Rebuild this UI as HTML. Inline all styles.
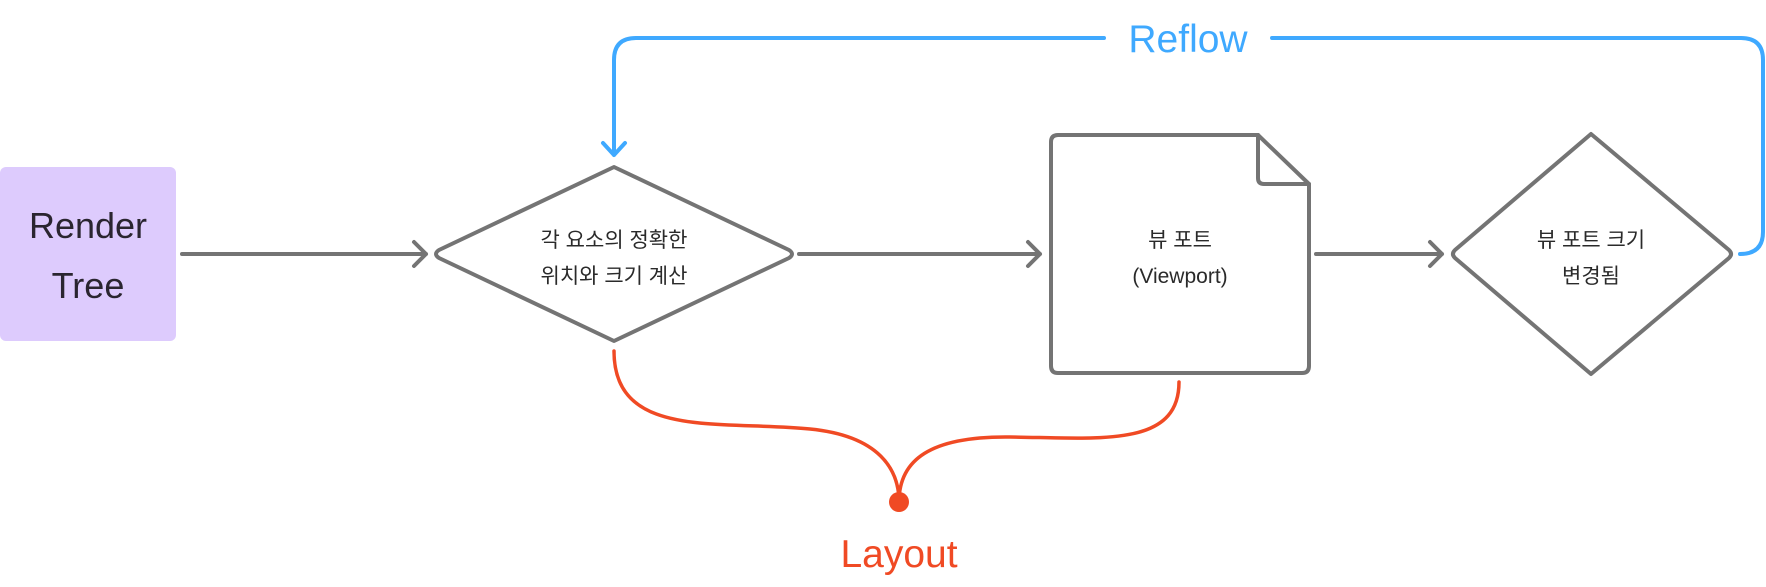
<!DOCTYPE html>
<html><head><meta charset="utf-8"><style>
body{margin:0;width:1766px;height:582px;background:#fff;overflow:hidden;font-family:"Liberation Sans","Noto Sans CJK KR",sans-serif}
</style></head><body>
<svg width="1766" height="582" viewBox="0 0 1766 582" xmlns="http://www.w3.org/2000/svg">
<rect x="0" y="167" width="176" height="174" rx="6" fill="#ddcbfd"/>
<text x="88" y="238" font-size="36" fill="#2a2530" text-anchor="middle" font-family="Liberation Sans, sans-serif">Render</text>
<text x="88" y="298" font-size="36" fill="#2a2530" text-anchor="middle" font-family="Liberation Sans, sans-serif">Tree</text>
<g stroke="#747474" stroke-width="4" fill="none" stroke-linecap="round" stroke-linejoin="round">
<path d="M182 254H426M414 242L426 254L414 266"/>
<path d="M799 254H1040M1028 242L1040 254L1028 266"/>
<path d="M1316 254H1442M1430 242L1442 254L1430 266"/>
<path d="M614 167L789 250Q795 254 789 258L614 341L439 258Q433 254 439 250Z"/>
<path d="M1058 135H1258L1309 184V366Q1309 373 1302 373H1058Q1051 373 1051 366V142Q1051 135 1058 135Z"/>
<path d="M1258 135V178Q1258 184 1264 184H1309"/>
<path d="M1591 134L1729 250Q1733 254 1729 258L1591 374L1455 258Q1451 254 1455 250Z"/>
</g>
<g font-size="21" fill="#2a2a2a" text-anchor="middle">
<text x="614" y="247">각 요소의 정확한</text>
<text x="614" y="283">위치와 크기 계산</text>
<text x="1180" y="247">뷰 포트</text>
<text x="1180" y="283">(Viewport)</text>
<text x="1591" y="247">뷰 포트 크기</text>
<text x="1591" y="283">변경됨</text>
</g>
<g stroke="#3fa9ff" stroke-width="4" fill="none" stroke-linecap="round" stroke-linejoin="round">
<path d="M1740 254Q1763 254 1763 232V60Q1763 38 1741 38H1272"/>
<path d="M1104 38H636Q614 38 614 60V155M603 143L614 155L625 143"/>
</g>
<text x="1188" y="52" font-size="39" fill="#3fa9ff" text-anchor="middle">Reflow</text>
<g stroke="#f04a24" stroke-width="3.5" fill="none" stroke-linecap="round">
<path d="M614 351C614 440 720 420 810 429C880 436 899 470 899 502"/>
<path d="M1179 382C1179 448 1100 438 1010 437C930 436 899 460 899 502"/>
</g>
<circle cx="899" cy="502" r="10" fill="#f04a24"/>
<text x="899" y="567" font-size="39" fill="#f04a24" text-anchor="middle">Layout</text>
</svg>
</body></html>
